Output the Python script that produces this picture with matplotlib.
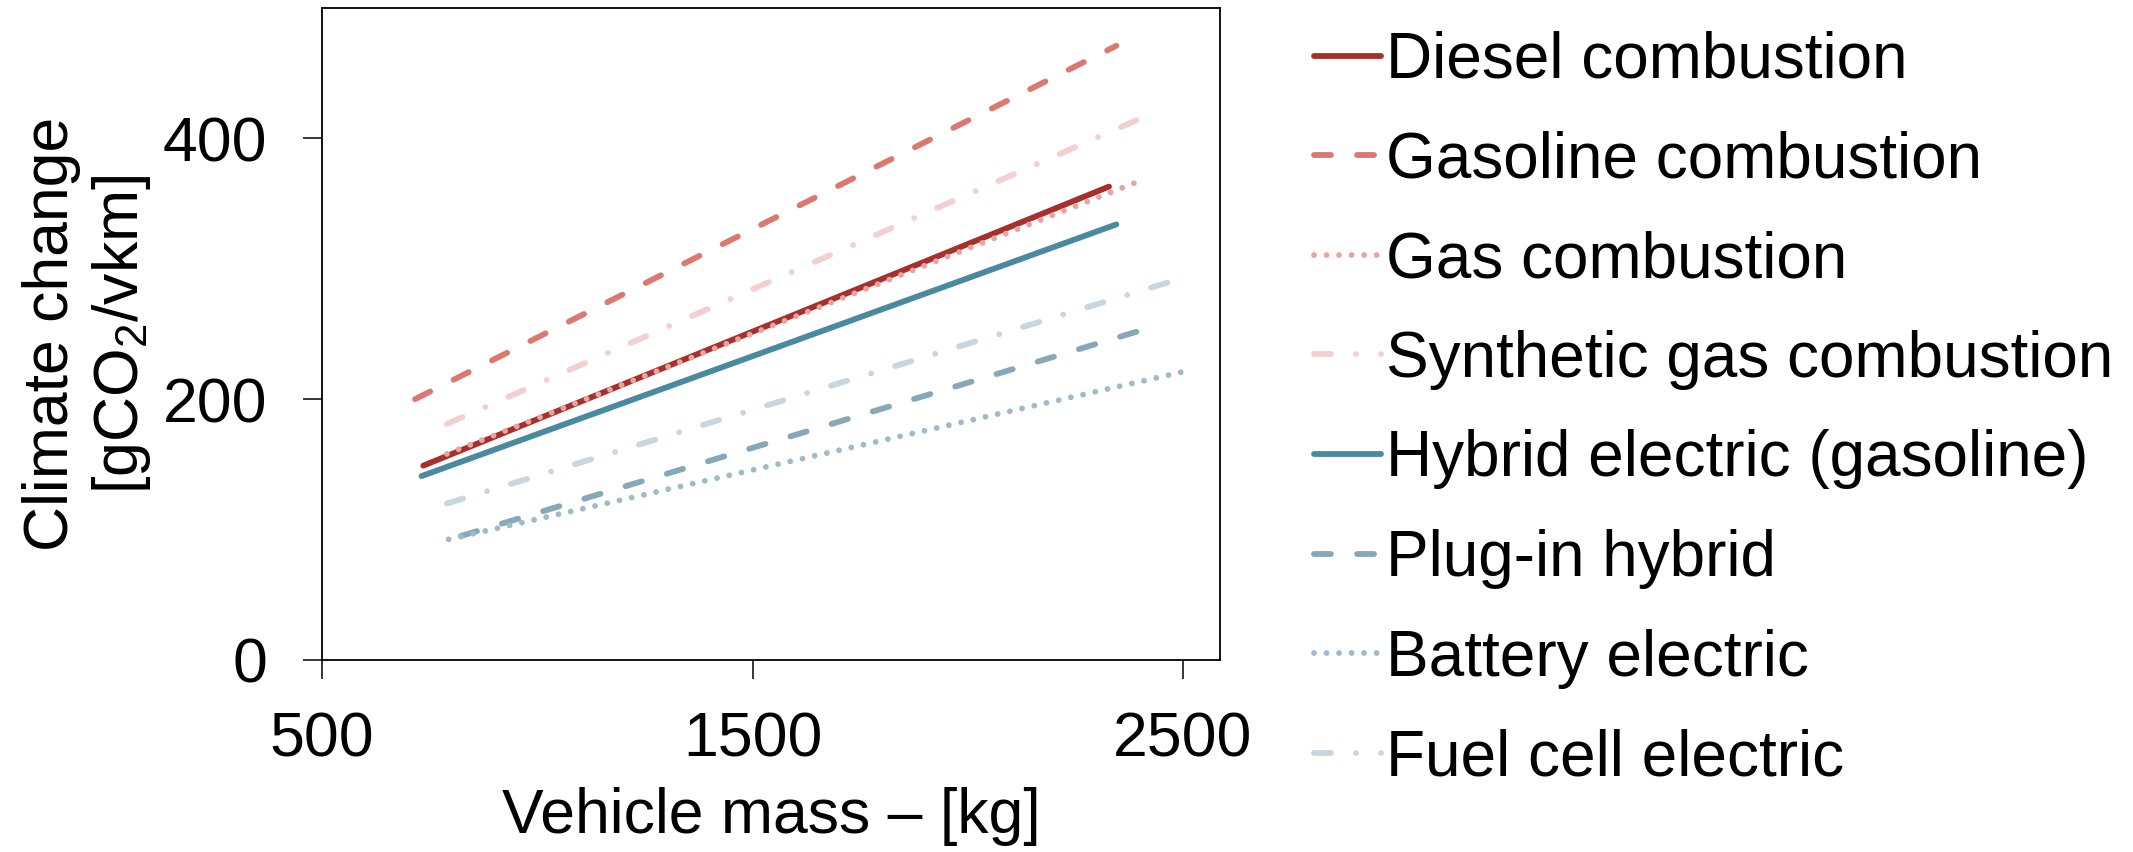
import matplotlib
matplotlib.use('Agg')
import matplotlib.pyplot as plt

# vehicle mass range [kg] and fitted climate change [gCO2/vkm] at both ends
names = ['Diesel combustion', 'Gasoline combustion', 'Gas combustion',
         'Synthetic gas combustion', 'Hybrid electric (gasoline)',
         'Plug-in hybrid', 'Battery electric', 'Fuel cell electric']
mass_start = [735, 716, 790, 790, 731, 822, 794, 790]
mass_end = [2328, 2345, 2389, 2413, 2345, 2395, 2500, 2490]
impact_start = [149, 200, 158, 181, 141, 95, 92.5, 120]
impact_end = [363, 471, 366, 417, 334, 252, 221, 292]

colors = ['#A8302C', '#DD7871', '#E9A3A1', '#F3D0CF',
          '#4A8AA1', '#87A8B8', '#A0BAC8', '#C8D6DE']
dash_line = (0, (12.2, 18.8))
dot_line = (0, (0.01, 9))
dashdot_line = (0, (12.2, 18, 0.01, 18))
styles = ['-', dash_line, dot_line, dashdot_line,
          '-', dash_line, dot_line, dashdot_line]

plt.rcParams['font.family'] = ['Liberation Sans', 'DejaVu Sans']
plt.rcParams['mathtext.fontset'] = 'custom'
plt.rcParams['mathtext.rm'] = 'Liberation Sans'
plt.rcParams['mathtext.default'] = 'regular'
plt.rcParams['lines.scale_dashes'] = False

fig = plt.figure(figsize=(21.33, 8.52), dpi=100)
ax = fig.add_axes([0.151, 0.2254, 0.421, 0.7653])

for name, x0, x1, y0, y1, c, ls in zip(names, mass_start, mass_end,
                                       impact_start, impact_end, colors, styles):
    ax.plot([x0, x1], [y0, y1], color=c, linestyle=ls, linewidth=4.2,
            solid_capstyle='round', dash_capstyle='round', label=name)

ax.set_xlim(500, 2586)
ax.set_ylim(0, 500)
ax.set_xticks([500, 1500, 2500])
ax.set_yticks([0, 200, 400])
for sp in ax.spines.values():
    sp.set_linewidth(1.3)
ax.tick_params(axis='both', direction='out', length=13.7, width=1.1, labelsize=45)
ax.tick_params(axis='x', pad=23)
ax.tick_params(axis='y', pad=26)

ax.set_xlabel('Vehicle mass – [kg]', fontsize=45, labelpad=12)
ax.set_ylabel('Climate change\n[gCO$_2$/vkm]', fontsize=45, linespacing=1.2)
ax.yaxis.set_label_coords(-0.188, 0.5)

leg = ax.legend(loc='upper left', bbox_to_anchor=(1314 / 2133, 1 - 31 / 852),
                bbox_transform=fig.transFigure, frameon=False, fontsize=46,
                borderpad=0, borderaxespad=0, handlelength=1.05,
                handletextpad=0.08, labelspacing=0.62)

fig.savefig('out.png', dpi=100)
